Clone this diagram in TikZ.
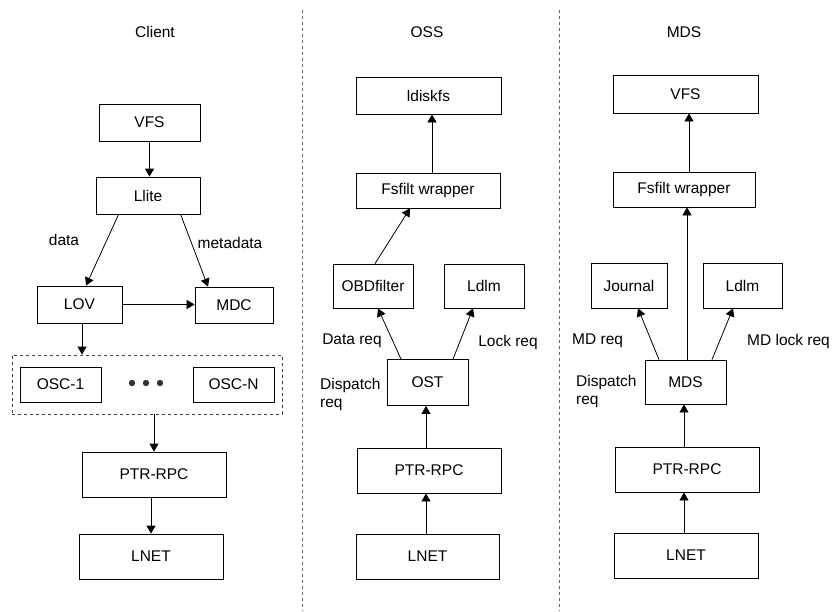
\documentclass[tikz,border=0pt]{standalone}
\usepackage{fontspec}
\setmainfont{Liberation Sans}
\usetikzlibrary{arrows.meta}

\tikzset{
  modbox/.style = {rectangle, line width = 0.8pt, draw = black, inner sep = 0pt, font = \fontsize{15.5}{18}\selectfont},
  lbl/.style = {inner sep = 0pt, font = \fontsize{15.5}{18}\selectfont},
  link/.style = {draw, line width = 0.8pt, -{Triangle[length = 8pt, width = 9pt]}},
  divider/.style = {draw = black!60, line width = 0.8pt, dash pattern = on 3pt off 3pt}
}

\begin{document}
\begin{tikzpicture}[x = 1pt, y = -1pt]

\useasboundingbox (0, 0) rectangle (836, 611);

\node[lbl] (tclient) at (155, 32) {Client};
\node[lbl] (toss) at (427, 32) {OSS};
\node[lbl] (tmds) at (684, 32) {MDS};

\coordinate (d1top) at (302, 10);
\coordinate (d1bot) at (302, 611);
\coordinate (d2top) at (559, 10);
\coordinate (d2bot) at (559, 611);
\path [divider] (d1top) -- (d1bot);
\path [divider] (d2top) -- (d2bot);

\node[modbox, minimum width = 101pt, minimum height = 37pt] (cVFS) at (149.5, 122.5) {VFS};
\node[modbox, minimum width = 104pt, minimum height = 37pt] (cLlite) at (148, 195.5) {Llite};
\node[modbox, minimum width = 85pt, minimum height = 37pt] (cLOV) at (79.5, 304.5) {LOV};
\node[modbox, minimum width = 78pt, minimum height = 36pt] (cMDC) at (234, 305) {MDC};
\node[modbox, draw = black!75, dash pattern = on 3pt off 3pt, minimum width = 270pt, minimum height = 59pt] (oscgroup) at (147, 384.5) {};
\node[modbox, minimum width = 81pt, minimum height = 35pt] (osc1) at (60.5, 384.5) {OSC-1};
\node[modbox, minimum width = 81pt, minimum height = 35pt] (oscN) at (233.5, 384.5) {OSC-N};
\node[modbox, minimum width = 144pt, minimum height = 45pt] (cPTR) at (154, 474.5) {PTR-RPC};
\node[modbox, minimum width = 144pt, minimum height = 45pt] (cLNET) at (151, 556.5) {LNET};

\coordinate (dots) at (146, 383);
\fill [black!80] ([xshift = -14pt]dots) circle (3.2pt);
\fill [black!80] (dots) circle (3.2pt);
\fill [black!80] ([xshift = 14pt]dots) circle (3.2pt);

\node[lbl] (ldata) at (64, 240) {data};
\node[lbl] (lmeta) at (230, 243) {metadata};

\path [link] (cVFS.south) -- (cVFS.south |- cLlite.north);
\path [link] ([xshift = 23pt]cLlite.south west) -- ([xshift = 6.5pt]cLOV.north);
\path [link] ([xshift = 85pt]cLlite.south west) -- ([xshift = -26pt]cMDC.north);
\path [link] (cLOV.east) -- (cLOV.east -| cMDC.west);
\path [link] ([xshift = 2.5pt]cLOV.south) -- ([xshift = 2.5pt]cLOV.south |- oscgroup.north);
\path [link] (cPTR.north |- oscgroup.south) -- (cPTR.north);
\path [link] (cLNET.north |- cPTR.south) -- (cLNET.north);

\node[modbox, minimum width = 145pt, minimum height = 37pt] (oLdiskfs) at (428.5, 95.5) {ldiskfs};
\node[modbox, minimum width = 144pt, minimum height = 35pt] (oFsfilt) at (428, 190.5) {Fsfilt wrapper};
\node[modbox, minimum width = 80pt, minimum height = 44pt] (oOBD) at (373, 286) {OBDfilter};
\node[modbox, minimum width = 80pt, minimum height = 44pt] (oLdlm) at (484, 286) {Ldlm};
\node[modbox, minimum width = 81pt, minimum height = 46pt] (oOST) at (427.5, 382.5) {OST};
\node[modbox, minimum width = 144pt, minimum height = 45pt] (oPTR) at (429, 470.5) {PTR-RPC};
\node[modbox, minimum width = 143pt, minimum height = 45pt] (oLNET) at (427.5, 556.5) {LNET};

\node[lbl] (ldatareq) at (352, 341) {Data req};
\node[lbl] (llockreq) at (508, 342) {Lock req};
\node[lbl, anchor = west, align = left] (lodisp) at (320, 394) {Dispatch\\req};

\path [link] ([xshift = 4pt]oFsfilt.north) -- ([xshift = 4pt]oFsfilt.north |- oLdiskfs.south);
\path [link] ([xshift = 2pt]oOBD.north) -- ([xshift = -18pt]oFsfilt.south);
\path [link] ([xshift = -26.5pt]oOST.north) -- ([xshift = 5pt]oOBD.south);
\path [link] ([xshift = 25.5pt]oOST.north) -- ([xshift = -11pt]oLdlm.south);
\path [link] ([xshift = -1.5pt]oOST.south |- oPTR.north) -- ([xshift = -1.5pt]oOST.south);
\path [link] ([xshift = -1.5pt]oOST.south |- oLNET.north) -- ([xshift = -1.5pt]oOST.south |- oPTR.south);

\node[modbox, minimum width = 145pt, minimum height = 38pt] (mVFS) at (685.5, 94) {VFS};
\node[modbox, minimum width = 142pt, minimum height = 35pt] (mFsfilt) at (684, 189.5) {Fsfilt wrapper};
\node[modbox, minimum width = 76pt, minimum height = 45pt] (mJournal) at (629, 285.5) {Journal};
\node[modbox, minimum width = 79pt, minimum height = 45pt] (mLdlm) at (742.5, 285.5) {Ldlm};
\node[modbox, minimum width = 81pt, minimum height = 44pt] (mMDS) at (685.5, 382) {MDS};
\node[modbox, minimum width = 144pt, minimum height = 45pt] (mPTR) at (687, 469.5) {PTR-RPC};
\node[modbox, minimum width = 144pt, minimum height = 45pt] (mLNET) at (686, 555.5) {LNET};

\node[lbl, anchor = west] (lmdreq) at (572, 341) {MD req};
\node[lbl, anchor = west] (lmdlock) at (747, 341) {MD lock req};
\node[lbl, anchor = west, align = left] (lmdisp) at (576, 391) {Dispatch\\req};

\path [link] ([xshift = 5pt]mFsfilt.north) -- ([xshift = 5pt]mFsfilt.north |- mVFS.south);
\path [link] ([xshift = 1.5pt]mMDS.north) -- ([xshift = 1.5pt]mMDS.north |- mFsfilt.south);
\path [link] ([xshift = -26.5pt]mMDS.north) -- ([xshift = 9pt]mJournal.south);
\path [link] ([xshift = 26.5pt]mMDS.north) -- ([xshift = -9.5pt]mLdlm.south);
\path [link] ([xshift = -1.5pt]mMDS.south |- mPTR.north) -- ([xshift = -1.5pt]mMDS.south);
\path [link] ([xshift = -1.5pt]mMDS.south |- mLNET.north) -- ([xshift = -1.5pt]mMDS.south |- mPTR.south);

\end{tikzpicture}
\end{document}
